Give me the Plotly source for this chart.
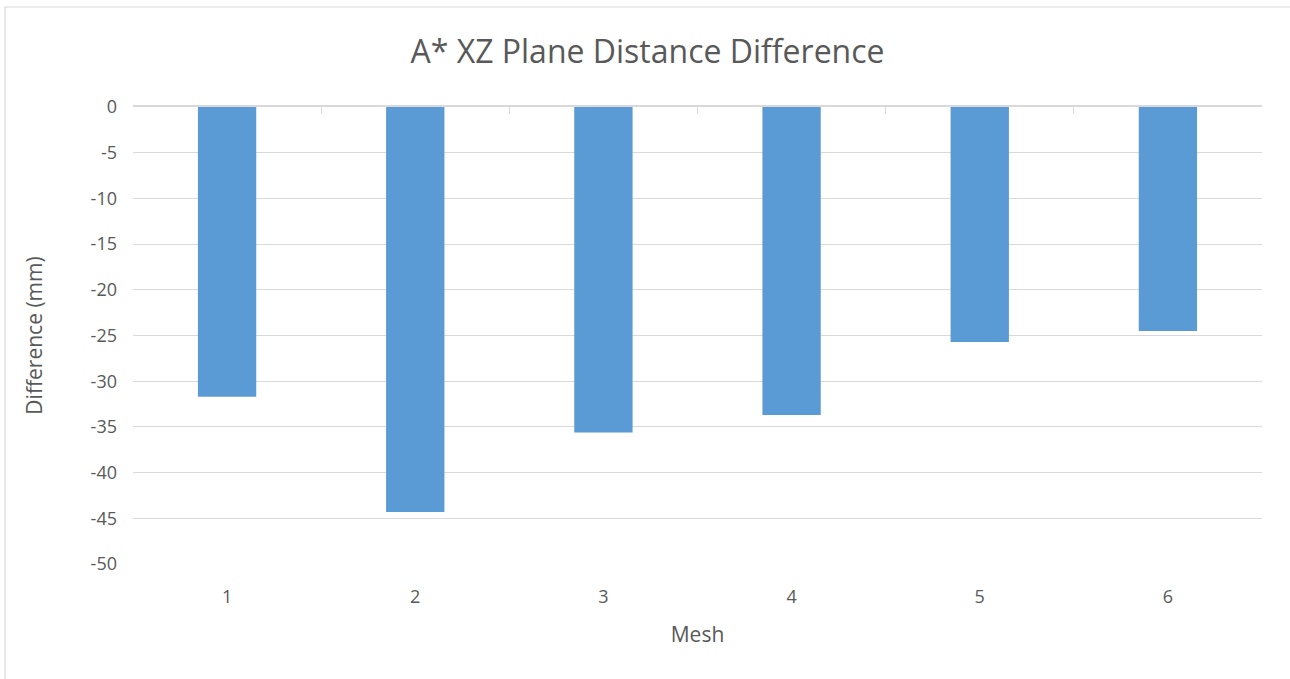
import plotly.graph_objects as go

categories = ["1", "2", "3", "4", "5", "6"]
differences = [-31.7, -44.3, -35.6, -33.7, -25.7, -24.5]
y_ticks = [0, -5, -10, -15, -20, -25, -30, -35, -40, -45, -50]

W, H = 1290, 679
L, R, T, B = 133, 28, 107, 115
pw, ph = W - L - R, H - T - B

def px_x(p):
    return (p - L) / pw

def px_y(p):
    return 1 - (p - T) / ph

grey = "#595959"
font = "Open Sans"

fig = go.Figure()
fig.add_trace(go.Bar(x=categories, y=differences, marker_color="#5B9BD5",
                     marker_line_width=0, hoverinfo="x+y"))
# invisible trace to hold the top category-boundary axis
fig.add_trace(go.Scatter(x=[0.5, 6.5], y=[0, 0], xaxis="x2", mode="lines",
                         line=dict(width=0), showlegend=False, hoverinfo="skip"))

fig.update_layout(
    width=W, height=H,
    margin=dict(l=L, r=R, t=T, b=B),
    paper_bgcolor="white", plot_bgcolor="white",
    showlegend=False,
    bargap=0.69,
    title=dict(text="A* XZ Plane Distance Difference", x=647.5 / W, xanchor="center",
               xref="container",
               y=1 - 52 / H, yanchor="middle",
               font=dict(family=font, size=32, color=grey)),
    xaxis=dict(type="category", showline=False, showgrid=False, ticks="",
               ticklabelstandoff=20,
               tickfont=dict(family=font, size=18, color=grey),
               title=dict(text="Mesh", font=dict(family=font, size=21, color=grey), standoff=20)),
    xaxis2=dict(overlaying="x", side="top", anchor="y", range=[0.5, 6.5],
                tickvals=[0.5, 1.5, 2.5, 3.5, 4.5, 5.5, 6.5],
                showticklabels=False, ticks="inside", ticklen=7, tickcolor="#d9d9d9",
                showline=True, linecolor="#d9d9d9", linewidth=1.5, showgrid=False,
                zeroline=False),
    yaxis=dict(range=[-50, 0], tickvals=y_ticks, ticktext=[str(v) for v in y_ticks],
               showgrid=True, gridcolor="#d9d9d9", gridwidth=1.2, zeroline=False,
               showline=False, ticks="", ticklabelstandoff=15,
               tickfont=dict(family=font, size=18, color=grey),
               title=dict(text="Difference (mm)", font=dict(family=font, size=21, color=grey), standoff=42)),
    shapes=[dict(type="rect", xref="paper", yref="paper",
                 x0=px_x(5), x1=px_x(1300), y0=px_y(700), y1=px_y(7),
                 line=dict(color="#d9d9d9", width=1.2), fillcolor="rgba(0,0,0,0)", layer="below")],
)

fig.write_html("out.html", config={"displayModeBar": False},
               post_script="document.body.style.margin='0';")
